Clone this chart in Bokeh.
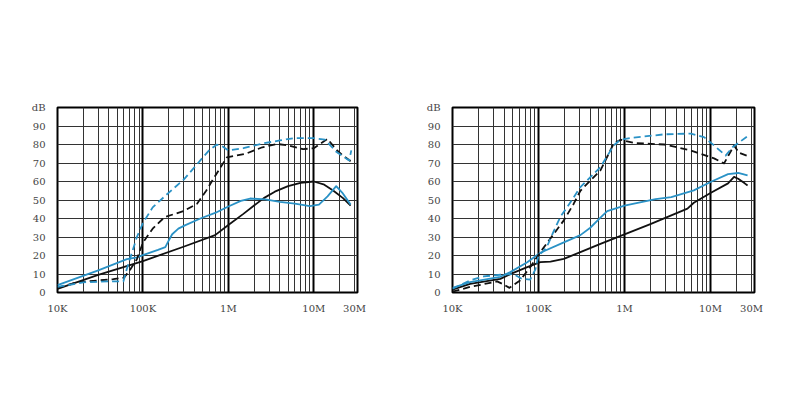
from bokeh.plotting import figure
from bokeh.models import FixedTicker, Grid, Range1d
from bokeh.layouts import row
from bokeh.embed import file_html
from bokeh.resources import INLINE

# ---- axes ----
X_TICKS = [1e4, 1e5, 1e6, 1e7, 3e7]
X_LABELS = ["10K", "100K", "1M", "10M", "30M"]
Y_TICKS = [0, 10, 20, 30, 40, 50, 60, 70, 80, 90, 100]
Y_LABELS = ["0", "10", "20", "30", "40", "50", "60", "70", "80", "90", "dB"]
MINOR_X = [k * 10 ** e for e in (4, 5, 6) for k in range(2, 10)] + [2e7, 3e7]
DECADES_X = [1e5, 1e6, 1e7]
GRID_Y = [10, 20, 30, 40, 50, 60, 70, 80, 90]

# ---- left chart ----
L_black_solid_f = [1e4, 3e4, 1e5, 3.1e5, 7e5, 1e6, 1.5e6, 2e6, 2.6e6, 3.5e6, 5e6, 7e6, 1e7, 1.3e7, 1.7e7, 2.2e7, 2.7e7]
L_black_solid_db = [2, 9.5, 17, 25, 31, 36.5, 42.5, 47, 51, 54.5, 57.5, 59.3, 60, 58.5, 55, 51, 47]

L_blue_solid_f = [1e4, 3e4, 6.5e4, 8.5e4, 1e5, 1.5e5, 1.83e5, 2e5, 2.2e5, 2.6e5, 3.1e5, 4.7e5, 7e5, 1e6, 1.4e6, 1.8e6, 2.7e6, 4e6, 6e6, 9e6, 1.15e7, 1.45e7, 1.83e7, 2.15e7, 2.7e7]
L_blue_solid_db = [4, 12, 18, 19, 20.2, 23, 24.5, 28, 31.5, 34.5, 36.3, 40, 43, 46.5, 49.5, 50.8, 50.3, 49, 48, 46.7, 47.5, 52, 57.5, 54, 47.5]

L_black_dash_f = [1e4, 1.7e4, 3e4, 4.5e4, 6e4, 7e4, 8.5e4, 1e5, 1.3e5, 1.8e5, 3e5, 4.3e5, 5.5e5, 7e5, 9.6e5, 1.6e6, 2.5e6, 3.7e6, 5e6, 7.5e6, 1e7, 1.2e7, 1.45e7, 1.85e7, 2.2e7, 2.7e7]
L_black_dash_db = [2.5, 5.5, 6.5, 7.2, 8, 12, 18, 27, 34.5, 40.8, 44, 48, 55, 63, 73, 75, 78.5, 80.3, 79.5, 77.5, 78, 80.5, 83, 77, 74, 71]

L_blue_dash_f = [1e4, 2e4, 4e4, 5.9e4, 6.5e4, 7.5e4, 8.5e4, 1e5, 1.3e5, 1.8e5, 3e5, 4.7e5, 6e5, 7.3e5, 8.5e5, 1e6, 1.5e6, 2.5e6, 4e6, 6e6, 1e7, 1.35e7, 1.85e7, 2.6e7, 2.75e7]
L_blue_dash_db = [3, 5.5, 6, 6, 13, 22, 30, 37.5, 46, 52, 61, 71.4, 77, 79.9, 79, 76.8, 78, 80.5, 82.2, 83.5, 83.5, 82.6, 75.9, 71.4, 76.8]

# ---- right chart ----
R_black_solid_f = [1e4, 1.6e4, 3.6e4, 5e4, 7.4e4, 1.05e5, 1.38e5, 1.97e5, 3.07e5, 5.25e5, 1e6, 2e6, 3.5e6, 5.4e6, 6.4e6, 1e7, 1.6e7, 1.88e7, 2.1e7, 2.5e7, 2.7e7]
R_black_solid_db = [1.5, 4.7, 7.4, 10.5, 13.7, 16.4, 16.7, 18.2, 21.8, 26.3, 31.4, 37, 41.7, 45.3, 48.5, 53.8, 59, 62.5, 61.5, 59, 57.8]

R_blue_solid_f = [1e4, 1.6e4, 3.6e4, 4.7e4, 7.4e4, 1.05e5, 1.8e5, 3.07e5, 4e5, 5.25e5, 6.3e5, 1e6, 2.3e6, 3.5e6, 6.4e6, 1e7, 1.6e7, 2.1e7, 2.7e7]
R_blue_solid_db = [2.5, 5.6, 8.5, 11, 16.4, 21.5, 26.3, 31, 35, 40.5, 44, 47, 50.5, 51.6, 55.2, 59.7, 64, 64.6, 63.3]

R_black_dash_f = [1e4, 1.6e4, 3.3e4, 3.8e4, 4.6e4, 6.1e4, 8e4, 1.05e5, 1.97e5, 2.57e5, 3.07e5, 5.25e5, 7.5e5, 9e5, 1.29e6, 2.9e6, 5.9e6, 1.1e7, 1.44e7, 1.88e7, 2.15e7, 2.7e7]
R_black_dash_db = [0.5, 3, 6, 4.7, 2.5, 6.5, 13.7, 21.8, 39, 48, 55, 66, 80.5, 82.6, 80.8, 80, 76.8, 72.5, 69.8, 79.5, 75.5, 73.8]

R_blue_dash_f = [1e4, 1.6e4, 2.3e4, 3.6e4, 5.1e4, 6.4e4, 8e4, 9.2e4, 1e5, 1.15e5, 1.26e5, 1.5e5, 1.8e5, 2.15e5, 3.07e5, 5.25e5, 7.5e5, 9e5, 1.17e6, 2.9e6, 5.9e6, 8.4e6, 1.1e7, 1.5e7, 1.8e7, 2.7e7]
R_blue_dash_db = [2, 6.5, 8.7, 9.6, 10, 7.4, 7, 12.5, 20, 22.5, 25, 33, 41, 46, 57, 67.8, 79.5, 82.6, 83.5, 85.5, 85.9, 84, 79.5, 74, 78.5, 84.5]

BLUE = "#2a92c6"
BLACK = "#111111"
FONT = "DejaVu Serif"


def make(width, left, right, curves):
    p = figure(width=width, height=390, x_axis_type="log",
               x_range=Range1d(1e4, 3.25e7), y_range=Range1d(0, 100),
               output_backend="svg", toolbar_location=None,
               min_border_left=left, min_border_right=right,
               min_border_top=107, min_border_bottom=98)
    p.background_fill_color = "white"
    p.border_fill_color = "white"
    p.outline_line_color = "black"
    p.outline_line_width = 2
    p.outline_line_alpha = 1

    p.xaxis.ticker = FixedTicker(ticks=X_TICKS)
    p.xaxis.major_label_overrides = {t: l for t, l in zip(X_TICKS, X_LABELS)}
    p.yaxis.ticker = FixedTicker(ticks=Y_TICKS)
    p.yaxis.major_label_overrides = {t: l for t, l in zip(Y_TICKS, Y_LABELS)}
    for ax in (p.xaxis, p.yaxis):
        ax.axis_line_color = None
        ax.major_tick_line_color = None
        ax.minor_tick_line_color = None
        ax.major_label_text_font = FONT
        ax.major_label_text_font_size = "10px"
        ax.major_label_text_color = "#444444"
    p.xaxis.major_label_standoff = 4
    p.yaxis.major_label_standoff = 6

    p.xgrid.ticker = FixedTicker(ticks=MINOR_X)
    p.xgrid.grid_line_color = "#333333"
    p.xgrid.grid_line_width = 1
    p.ygrid.ticker = FixedTicker(ticks=GRID_Y)
    p.ygrid.grid_line_color = "#333333"
    p.ygrid.grid_line_width = 1
    p.add_layout(Grid(dimension=0, ticker=FixedTicker(ticks=DECADES_X),
                      grid_line_color="black", grid_line_width=2))

    for f, db, color, dash in curves:
        p.line(f, db, line_color=color, line_width=1.8, line_dash=dash,
               line_join="round")
    return p


p1 = make(404, 57, 47, [
    (L_black_solid_f, L_black_solid_db, BLACK, "solid"),
    (L_blue_solid_f, L_blue_solid_db, BLUE, "solid"),
    (L_black_dash_f, L_black_dash_db, BLACK, "7 4"),
    (L_blue_dash_f, L_blue_dash_db, BLUE, "7 4"),
])
p2 = make(388, 48, 38, [
    (R_black_solid_f, R_black_solid_db, BLACK, "solid"),
    (R_blue_solid_f, R_blue_solid_db, BLUE, "solid"),
    (R_black_dash_f, R_black_dash_db, BLACK, "7 4"),
    (R_blue_dash_f, R_blue_dash_db, BLUE, "7 4"),
])

layout = row(p1, p2)
open("out.html", "w").write(file_html(layout, INLINE))
